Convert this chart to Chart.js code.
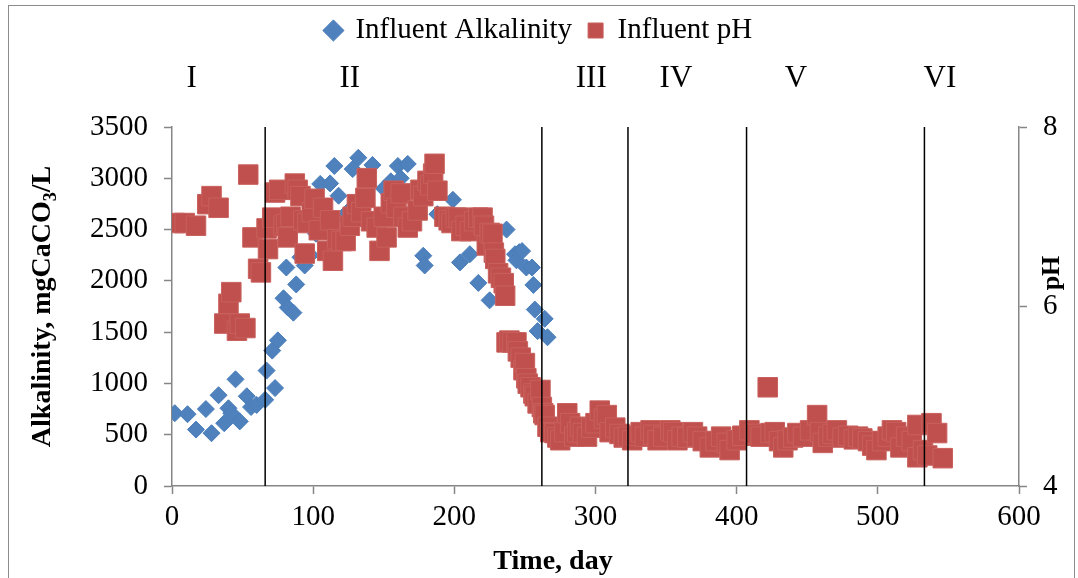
<!DOCTYPE html>
<html><head><meta charset="utf-8">
<script src="https://cdn.jsdelivr.net/npm/chart.js@4.4.1/dist/chart.umd.min.js"></script>
<style>html,body{margin:0;padding:0;background:#fff}#wrap{width:1078px;height:578px;position:relative}</style>
</head><body><div id="wrap"><canvas id="c" width="1078" height="578"></canvas></div>
<script>
// ---- data ----
const alkDays = [2,11,17,24,28,33,37,40,42,45,48,53,56,60,66,67,71,73,75,79,81,82,86,88,91,94,98,102,105,112,115,118,122,125,128,132,135,142,145,150,155,160,162,167,178,179,188,199,204,211,217,225,237,243,244,246,248,251,255,256,257,259,264,266];
const alkValues = [710,700,550,750,515,885,612,758,710,1040,630,875,770,790,840,1125,1320,955,1420,1830,2130,1740,1690,1965,2230,2150,2250,2460,2945,2950,3120,2830,2620,2680,3090,3200,2700,3130,2600,2900,2970,3120,3000,3140,2245,2150,2650,2790,2180,2260,1980,1810,2500,2260,2200,2280,2290,2130,2130,1960,1720,1510,1630,1450];

const phDays = [2,9,17,25,28,33,37,40,42,46,48,52,54,57,61,63,67,68,71,73,76,79,81,82,84,87,89,91,93,94,96,99,101,104,107,110,112,114,117,120,123,126,128,131,134,137,138,141,145,147,150,152,155,157,159,162,164,167,170,174,176,178,181,183,185,186,188,193,196,198,201,203,205,208,211,214,217,220,221,223,225,227,228,229,231,233,235,236,237,239,241,244,245,247,249,250,251,252,254,256,257,259,261,262,263,264,266,268,271,273,275,278,280,282,285,287,289,291,294,297,300,303,306,308,310,314,317,320,323,326,329,332,335,339,341,344,348,353,355,358,361,365,369,372,376,381,385,389,393,395,400,404,409,413,417,422,424,427,430,433,436,440,443,447,452,457,459,461,465,468,471,475,479,483,486,489,493,496,499,503,507,510,513,516,520,524,528,528,532,535,538,542,546];
const phValues = [6.93,6.93,6.90,7.14,7.23,7.10,5.81,6.03,6.16,5.73,5.81,5.76,7.47,6.77,6.42,6.38,6.87,6.64,6.99,7.27,7.30,6.90,6.92,6.77,7.00,7.37,7.30,7.23,6.96,6.59,6.93,7.05,7.20,6.85,7.10,6.62,6.96,6.51,6.75,6.73,6.73,6.90,7.00,7.14,7.05,7.21,7.43,6.95,6.88,6.62,7.00,6.77,7.15,7.29,7.10,7.26,7.00,6.88,6.95,7.07,7.30,7.23,7.40,7.35,7.48,7.59,7.29,7.00,6.96,6.93,6.99,6.99,6.84,6.90,6.84,6.95,6.99,6.99,6.90,6.68,6.82,6.81,6.60,6.53,6.37,6.32,6.26,6.12,5.60,5.62,5.60,5.60,5.50,5.43,5.29,5.37,5.20,5.14,5.10,5.03,5.00,4.92,5.07,4.88,4.81,4.79,4.66,4.60,4.59,4.54,4.51,4.60,4.81,4.70,4.55,4.60,4.66,4.59,4.55,4.65,4.70,4.84,4.75,4.79,4.60,4.65,4.58,4.54,4.55,4.51,4.56,4.60,4.55,4.62,4.57,4.51,4.55,4.62,4.60,4.51,4.55,4.54,4.60,4.55,4.50,4.43,4.50,4.55,4.48,4.40,4.51,4.56,4.62,4.58,4.55,5.10,4.59,4.60,4.50,4.43,4.51,4.54,4.59,4.55,4.62,4.79,4.60,4.48,4.55,4.58,4.62,4.54,4.56,4.52,4.55,4.53,4.50,4.45,4.40,4.50,4.55,4.62,4.60,4.43,4.55,4.50,4.68,4.32,4.40,4.34,4.70,4.59,4.31];

const phaseBounds = [66, 262, 323, 407, 533];
const phaseNames = ['I','II','III','IV','V','VI'];
const phaseLabelDays = [14, 126, 297, 357, 442, 544];

const xTicks = [0,100,200,300,400,500,600];
const alkTicks = [0,500,1000,1500,2000,2500,3000,3500];
const phTicks = [4,6,8];

// ---- chart ----
const SERIF = "'Liberation Serif', 'Times New Roman', serif";
Chart.defaults.font.family = SERIF;
Chart.defaults.color = '#000';
const AXIS = '#868686';
const plain = v => String(v);

const overlay = {
  id: 'overlay',
  beforeLayout(chart) {
    const lg = chart.legend;
    if (lg && !lg._spacer) {
      const fit = lg.fit;
      lg.fit = function () { fit.call(this); this.height += 72; };
      lg._spacer = true;
    }
  },
  beforeDraw(chart) {
    const ctx = chart.ctx;
    ctx.save();
    ctx.fillStyle = '#fff';
    ctx.fillRect(0, 0, chart.width, chart.height);
    ctx.strokeStyle = '#8c8c8c';
    ctx.lineWidth = 1;
    ctx.strokeRect(8.5, 5.5, 1066, 600);
    ctx.restore();
  },
  afterDatasetsDraw(chart) {
    const ctx = chart.ctx, x = chart.scales.x, a = chart.chartArea;
    ctx.save();
    ctx.strokeStyle = '#000';
    ctx.lineWidth = 1.5;
    phaseBounds.forEach(d => {
      const px = x.getPixelForValue(d);
      ctx.beginPath(); ctx.moveTo(px, a.top); ctx.lineTo(px, a.bottom); ctx.stroke();
    });
    ctx.restore();
  },
  afterDraw(chart) {
    const ctx = chart.ctx, x = chart.scales.x, a = chart.chartArea;
    ctx.save();
    ctx.fillStyle = '#000';
    // phase labels
    ctx.font = '31px ' + SERIF;
    ctx.textAlign = 'center';
    ctx.textBaseline = 'alphabetic';
    phaseNames.forEach((n, i) => ctx.fillText(n, x.getPixelForValue(phaseLabelDays[i]), 87));
    // x title
    ctx.font = 'bold 28px ' + SERIF;
    ctx.fillText('Time, day', 553, 569);
    // left title with subscript
    ctx.save();
    ctx.translate(41, (a.top + a.bottom) / 2);
    ctx.rotate(-Math.PI / 2);
    ctx.textAlign = 'left';
    const p1 = 'Alkalinity, mgCaCO', p2 = '3', p3 = '/L';
    ctx.font = 'bold 28px ' + SERIF;
    const w1 = ctx.measureText(p1).width, w3 = ctx.measureText(p3).width;
    ctx.font = 'bold 18px ' + SERIF;
    const w2 = ctx.measureText(p2).width;
    let sx = -(w1 + w2 + w3) / 2;
    ctx.font = 'bold 28px ' + SERIF;
    ctx.fillText(p1, sx, 9); sx += w1;
    ctx.font = 'bold 18px ' + SERIF;
    ctx.fillText(p2, sx, 15); sx += w2;
    ctx.font = 'bold 28px ' + SERIF;
    ctx.fillText(p3, sx, 9);
    ctx.restore();
    // right title
    ctx.save();
    ctx.translate(1041, 273);
    ctx.rotate(-Math.PI / 2);
    ctx.textAlign = 'center';
    ctx.font = 'bold 26px ' + SERIF;
    ctx.fillText('pH', 0, 18);
    ctx.restore();
    ctx.restore();
  }
};

new Chart(document.getElementById('c'), {
  type: 'scatter',
  data: {
    datasets: [
      {
        label: 'Influent Alkalinity',
        data: alkDays.map((d, i) => ({ x: d, y: alkValues[i] })),
        yAxisID: 'y',
        order: 1,
        pointStyle: 'rectRot',
        pointRadius: 8.5,
        pointHoverRadius: 8.5,
        backgroundColor: '#4F81BD',
        borderColor: '#4A7EBB',
        borderWidth: 1
      },
      {
        label: 'Influent pH',
        data: phDays.map((d, i) => ({ x: d, y: phValues[i] })),
        yAxisID: 'y1',
        order: 0,
        pointStyle: 'rect',
        pointRadius: 13.8,
        pointHoverRadius: 13.8,
        backgroundColor: '#C0504D',
        borderColor: '#C8605D',
        borderWidth: 1
      }
    ]
  },
  options: {
    responsive: false,
    animation: false,
    layout: { padding: { top: 0, left: 0, right: 0, bottom: 0 } },
    plugins: {
      tooltip: { enabled: false },
      legend: {
        display: true,
        position: 'top',
        labels: {
          usePointStyle: true,
          boxWidth: 15,
          boxHeight: 15,
          padding: 16,
          font: { size: 29, family: SERIF },
          color: '#000',
          sort: (a, b) => a.datasetIndex - b.datasetIndex
        }
      }
    },
    scales: {
      x: {
        type: 'linear', min: 0, max: 600,
        afterBuildTicks: s => { s.ticks = xTicks.map(v => ({ value: v })); },
        afterFit: s => { s.height = 92; },
        grid: { display: true, drawOnChartArea: false, drawTicks: true, tickLength: 8, tickColor: AXIS, tickWidth: 1.5 },
        border: { display: true, color: AXIS, width: 1.5 },
        ticks: { font: { size: 29 }, padding: 6, color: '#000', callback: plain }
      },
      y: {
        type: 'linear', position: 'left', min: 0, max: 3500,
        afterBuildTicks: s => { s.ticks = alkTicks.map(v => ({ value: v })); },
        afterFit: s => { s.width = 172; },
        grid: { display: true, drawOnChartArea: false, drawTicks: true, tickLength: 8, tickColor: AXIS, tickWidth: 1.5 },
        border: { display: true, color: AXIS, width: 1.5 },
        ticks: { font: { size: 29 }, padding: 16, color: '#000', callback: plain }
      },
      y1: {
        type: 'linear', position: 'right', min: 4, max: 8,
        afterBuildTicks: s => { s.ticks = phTicks.map(v => ({ value: v })); },
        afterFit: s => { s.width = 59; },
        grid: { display: true, drawOnChartArea: false, drawTicks: true, tickLength: 8, tickColor: AXIS, tickWidth: 1.5 },
        border: { display: true, color: AXIS, width: 1.5 },
        ticks: { font: { size: 29 }, padding: 16, color: '#000', callback: plain }
      }
    }
  },
  plugins: [overlay]
});
</script></body></html>
